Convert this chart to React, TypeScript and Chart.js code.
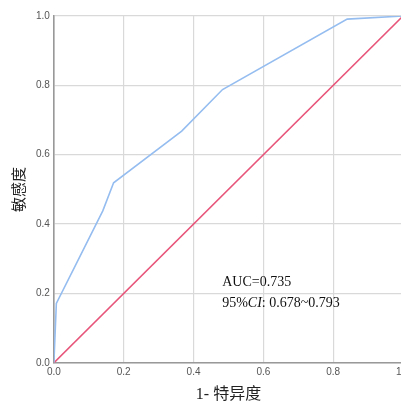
import React, { useEffect, useRef } from "react";
import { Chart, registerables } from "chart.js";

Chart.register(...registerables);

const fpr = [0, 0.007, 0.14, 0.171, 0.366, 0.483, 0.84, 1];
const tpr = [0, 0.171, 0.438, 0.519, 0.668, 0.788, 0.991, 1];
const refX = [0, 1];
const refY = [0, 1];
const xTitle = "1- 特异度";
const yTitle = "敏感度";
const annoLines = ["AUC=0.735", "95%CI: 0.678~0.793"];
const annoPos = { x: 0.482, y: [0.233, 0.172] };

const annoPlugin = {
  id: "anno",
  afterDatasetsDraw(chart: any) {
    const ctx = chart.ctx;
    const xs = chart.scales.x;
    const ys = chart.scales.y;
    const px = xs.getPixelForValue(annoPos.x);
    ctx.save();
    ctx.fillStyle = "#111";
    ctx.textBaseline = "middle";
    ctx.textAlign = "left";
    const f = '"Liberation Serif", "Times New Roman", serif';
    ctx.font = `14px ${f}`;
    ctx.fillText(annoLines[0], px, ys.getPixelForValue(annoPos.y[0]));
    const py = ys.getPixelForValue(annoPos.y[1]);
    const s = annoLines[1];
    const a = "95%";
    const b = "CI";
    const c = s.slice(a.length + b.length);
    let cx = px;
    ctx.font = `14px ${f}`;
    ctx.fillText(a, cx, py);
    cx += ctx.measureText(a).width;
    ctx.font = `italic 14px ${f}`;
    ctx.fillText(b, cx, py);
    cx += ctx.measureText(b).width;
    ctx.font = `14px ${f}`;
    ctx.fillText(c, cx, py);
    ctx.restore();
  },
};

export default function App() {
  const ref = useRef<HTMLCanvasElement>(null);
  useEffect(() => {
    const ctx = ref.current!.getContext("2d")!;
    const chart = new Chart(ctx, {
      type: "scatter",
      data: {
        datasets: [
          {
            data: fpr.map((x, i) => ({ x, y: tpr[i] })),
            showLine: true,
            borderColor: "#95bdf0",
            borderWidth: 1.6,
            pointRadius: 0,
            fill: false,
          },
          {
            data: refX.map((x, i) => ({ x, y: refY[i] })),
            showLine: true,
            borderColor: "#e8557a",
            borderWidth: 1.6,
            pointRadius: 0,
            fill: false,
          },
        ],
      },
      options: {
        animation: false,
        responsive: false,
        layout: { padding: { left: 9, top: 16, right: 0, bottom: 0 } },
        plugins: { legend: { display: false }, tooltip: { enabled: false } },
        scales: {
          x: {
            type: "linear",
            min: 0,
            max: 1,
            ticks: {
              stepSize: 0.2,
              color: "#555",
              font: { size: 10, family: '"Liberation Sans", Arial, sans-serif' },
              padding: 3,
              callback: (v: any) => Number(v).toFixed(1),
            },
            grid: { color: "#d9d9d9", lineWidth: 1.2, drawTicks: false },
            border: { color: "#999", width: 1.6 },
            title: {
              display: true,
              text: xTitle,
              color: "#222",
              font: { size: 16, family: '"Liberation Serif", "Noto Sans CJK SC", serif' },
              padding: { top: 4, bottom: 0 },
            },
          },
          y: {
            type: "linear",
            min: 0,
            max: 1,
            ticks: {
              stepSize: 0.2,
              color: "#555",
              font: { size: 10, family: '"Liberation Sans", Arial, sans-serif' },
              padding: 4,
              callback: (v: any) => Number(v).toFixed(1),
            },
            grid: { color: "#d9d9d9", lineWidth: 1.2, drawTicks: false },
            border: { color: "#999", width: 1.6 },
            title: {
              display: true,
              text: yTitle,
              color: "#222",
              font: { size: 15, family: '"Noto Sans CJK SC", sans-serif' },
              padding: { top: 0, bottom: 5 },
            },
          },
        },
      },
      plugins: [annoPlugin],
    });
    return () => chart.destroy();
  }, []);
  return (
    <div style={{ position: "fixed", left: 0, top: 0, width: 401, height: 404, overflow: "hidden", background: "#fff" }}>
      <canvas ref={ref} width={413} height={404} style={{ display: "block" }} />
    </div>
  );
}
